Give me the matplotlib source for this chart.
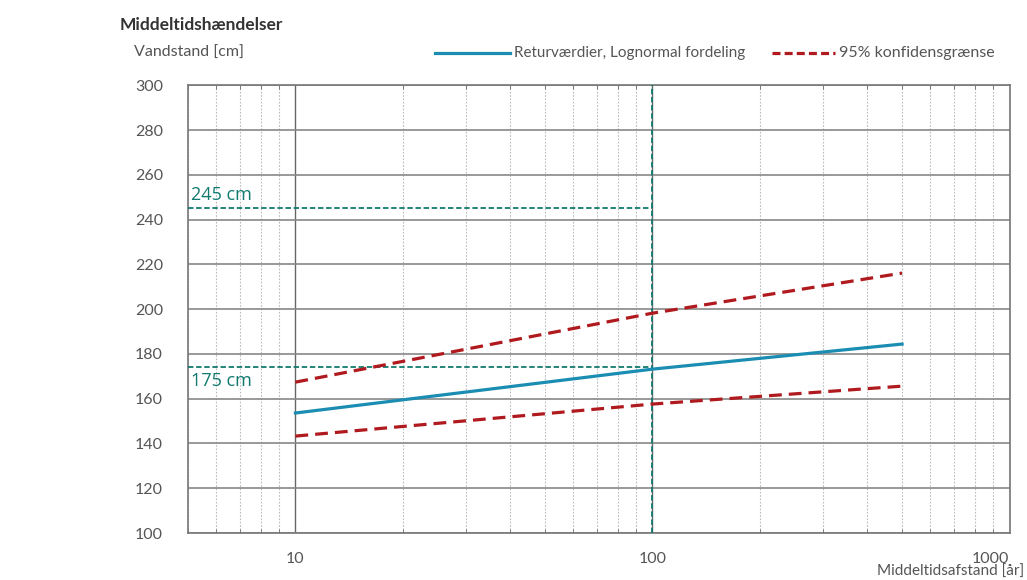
import matplotlib.pyplot as plt
from matplotlib.ticker import FixedLocator, NullFormatter

# return periods (years) and water levels (cm)
periods = [10, 100, 500]
return_level = [153.6, 173.2, 184.4]
upper_conf = [167.4, 198.2, 216.1]
lower_conf = [143.3, 157.6, 165.6]

# marked levels
mark_period = 100
mark_high = 245
mark_low = 174
mark_labels = ['245 cm', '175 cm']

y_ticks = list(range(100, 301, 20))
x_ticks = [10, 100, 1000]
x_tick_labels = ['10', '100', '1000']

font = 'Lato'
grey = '#555555'
teal = '#117a6e'
blue = '#1b8db3'
red = '#b0191e'

fig = plt.figure(figsize=(10.27, 5.8), dpi=100)
ax = fig.add_axes([0.183, 0.081, 0.800, 0.772])

ax.set_xscale('log')
ax.set_xlim(5, 1000)
ax.set_ylim(100, 300)

# grid
minor = [m * 10 ** e for e in range(0, 3) for m in range(2, 10) if 5 <= m * 10 ** e < 1000]
ax.xaxis.set_minor_locator(FixedLocator(minor))
ax.xaxis.set_minor_formatter(NullFormatter())
ax.set_xticks(x_ticks)
ax.set_xticklabels(x_tick_labels)
ax.set_yticks(y_ticks)
ax.grid(which='minor', axis='x', color='#bbbbbb', linestyle=(0, (1.5, 1.5)), linewidth=0.8)
ax.grid(which='major', axis='x', color='#666666', linewidth=1.0)
ax.grid(which='major', axis='y', color='#888888', linewidth=1.2)
ax.tick_params(which='both', direction='in', color='#666666', top=True, right=True)
ax.tick_params(which='major', length=0, labelsize=11.5, labelcolor=grey)
ax.tick_params(axis='y', pad=18)
ax.tick_params(axis='x', pad=14)
ax.tick_params(which='minor', length=3)
for lab in ax.get_xticklabels() + ax.get_yticklabels():
    lab.set_fontfamily(font)
# keep the last x label inside the figure
ax.get_xticklabels()[-1].set_horizontalalignment('right')
for s in ax.spines.values():
    s.set_color('#777777')
    s.set_linewidth(1.2)

# marker lines
ax.axvline(mark_period, color=teal, linestyle=(0, (3, 1.5)), linewidth=1.3, zorder=3)
ax.plot([5, mark_period], [mark_high, mark_high], color=teal, linestyle=(0, (3, 1.5)), linewidth=1.3, zorder=3)
ax.plot([5, mark_period], [mark_low, mark_low], color=teal, linestyle=(0, (3, 1.5)), linewidth=1.3, zorder=3)
ax.text(5.1, mark_high + 2, mark_labels[0], color=teal, fontsize=13, family='Open Sans', va='bottom')
ax.text(5.1, mark_low - 2, mark_labels[1], color=teal, fontsize=13, family='Open Sans', va='top')

# series
ax.plot(periods, return_level, color=blue, linewidth=2.3, zorder=4)
ax.plot(periods, upper_conf, color=red, linewidth=2.3, linestyle=(0, (4, 2.2)), zorder=4)
ax.plot(periods, lower_conf, color=red, linewidth=2.3, linestyle=(0, (4, 2.2)), zorder=4)

# titles and legend
fig.text(120 / 1027, 1 - 25 / 580, 'Middeltidshændelser', fontsize=12.5, fontweight='bold',
         color='#333333', family=font, va='center')
fig.text(134 / 1027, 1 - 53 / 580, 'Vandstand [cm]', fontsize=11.5, color=grey, family=font, va='center')
fig.text(1024 / 1027, 1 - 572 / 580, 'Middeltidsafstand [år]', fontsize=11, color=grey, family=font,
         va='center', ha='right')

ly = 1 - 53 / 580
fig.add_artist(plt.Line2D([435 / 1027, 510 / 1027], [ly, ly], color=blue, linewidth=2.3))
fig.text(514 / 1027, ly, 'Returværdier, Lognormal fordeling', fontsize=11, color=grey, family=font, va='center')
fig.add_artist(plt.Line2D([772 / 1027, 835 / 1027], [ly, ly], color=red, linewidth=2.3, linestyle=(0, (2.5, 1.3))))
fig.text(839 / 1027, ly, '95% konfidensgrænse', fontsize=11.5, color=grey, family=font, va='center')

fig.savefig('out.png', dpi=100)
